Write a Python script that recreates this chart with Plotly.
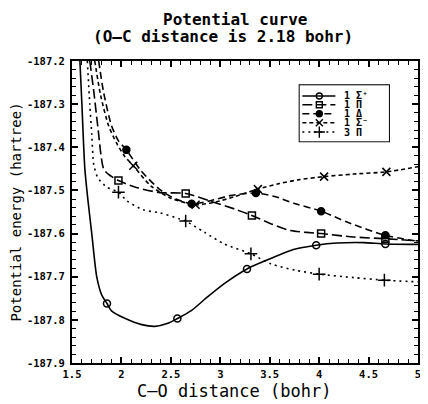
import plotly.graph_objects as go

# ---------------- data ----------------
# 1Σ+ (solid, open circles)
s1_x = [1.58, 1.60, 1.63, 1.66, 1.70, 1.75, 1.80, 1.854, 1.90, 2.04, 2.205, 2.34, 2.47, 2.566,
        2.71, 2.87, 3.04, 3.27, 3.51, 3.74, 3.97, 4.18, 4.45, 4.67, 5.0]
s1_y = [-187.20, -187.30, -187.45, -187.52, -187.60, -187.70, -187.742, -187.762, -187.779,
        -187.797, -187.811, -187.815, -187.808, -187.797, -187.778, -187.747, -187.716, -187.682,
        -187.658, -187.637, -187.627, -187.622, -187.621, -187.624, -187.625]
s1_mx = [1.854, 2.566, 3.27, 3.97, 4.67]
s1_my = [-187.762, -187.797, -187.682, -187.627, -187.624]

# 1Π (long dash, open squares)
s2_x = [1.68, 1.72, 1.76, 1.82, 1.87, 1.97, 2.15, 2.39, 2.65, 2.9, 3.17, 3.32, 3.51, 3.71,
        4.02, 4.35, 4.67, 5.0]
s2_y = [-187.20, -187.27, -187.35, -187.45, -187.463, -187.477, -187.493, -187.505, -187.507,
        -187.525, -187.545, -187.558, -187.577, -187.593, -187.600, -187.608, -187.612, -187.617]
s2_mx = [1.97, 2.65, 3.32, 4.02, 4.67]
s2_my = [-187.477, -187.507, -187.558, -187.600, -187.612]

# 1Δ (dashed, filled circles)
s3_x = [1.77, 1.82, 1.90, 1.97, 2.05, 2.2, 2.4, 2.55, 2.71, 2.9, 3.1, 3.36, 3.55, 3.76, 4.02,
        4.3, 4.67, 5.0]
s3_y = [-187.20, -187.273, -187.35, -187.385, -187.406, -187.455, -187.50, -187.52, -187.531,
        -187.524, -187.512, -187.506, -187.514, -187.531, -187.548, -187.575, -187.604, -187.618]
s3_mx = [2.05, 2.71, 3.36, 4.02, 4.67]
s3_my = [-187.406, -187.531, -187.506, -187.548, -187.604]

# 1Σ- (short dash, crosses x)
s4_x = [1.73, 1.79, 1.87, 1.95, 2.03, 2.12, 2.3, 2.5, 2.75, 2.95, 3.15, 3.38, 3.6, 3.8, 4.05,
        4.35, 4.68, 5.0]
s4_y = [-187.20, -187.28, -187.35, -187.39, -187.42, -187.443, -187.49, -187.518, -187.533,
        -187.527, -187.514, -187.497, -187.484, -187.475, -187.468, -187.462, -187.457, -187.445]
s4_mx = [2.12, 2.75, 3.38, 4.05, 4.68]
s4_my = [-187.443, -187.533, -187.497, -187.468, -187.457]

# 3Π (dotted, plus)
s5_x = [1.655, 1.68, 1.70, 1.72, 1.76, 1.85, 1.97, 2.055, 2.22, 2.39, 2.59, 2.65, 2.84, 3.04,
        3.31, 3.51, 3.76, 4.0, 4.35, 4.66, 5.0]
s5_y = [-187.20, -187.30, -187.37, -187.44, -187.47, -187.492, -187.504, -187.524, -187.545,
        -187.552, -187.566, -187.571, -187.597, -187.624, -187.647, -187.670, -187.685, -187.694,
        -187.702, -187.708, -187.712]
s5_mx = [1.97, 2.65, 3.31, 4.0, 4.66]
s5_my = [-187.504, -187.571, -187.647, -187.694, -187.708]

series_names = ["1\u2009Σ\u207a", "1\u2009Π", "1\u2009Δ", "1\u2009Σ\u207b", "3\u2009Π"]

title_lines = ["Potential curve", "(O–C distance is 2.18 bohr)"]
x_title = "C–O distance (bohr)"
y_title = "Potential energy (hartree)"

x_tick_vals = [1.5, 2, 2.5, 3, 3.5, 4, 4.5, 5]
x_tick_text = ["1.5", "2", "2.5", "3", "3.5", "4", "4.5", "5"]
y_tick_vals = [-187.9, -187.8, -187.7, -187.6, -187.5, -187.4, -187.3, -187.2]
y_tick_text = ["-187.9", "-187.8", "-187.7", "-187.6", "-187.5", "-187.4", "-187.3", "-187.2"]

# ---------------- styling ----------------
FONT = "DejaVu Sans Mono"
styles = [
    dict(dash="solid", symbol="circle-open", size=7),
    dict(dash="10px,4px", symbol="square-open", size=7),
    dict(dash="7px,4px", symbol="circle", size=7),
    dict(dash="4px,3px", symbol="x-thin-open", size=8),
    dict(dash="2px,4px", symbol="cross-thin-open", size=9),
]
curves = [(s1_x, s1_y, s1_mx, s1_my), (s2_x, s2_y, s2_mx, s2_my), (s3_x, s3_y, s3_mx, s3_my),
          (s4_x, s4_y, s4_mx, s4_my), (s5_x, s5_y, s5_mx, s5_my)]

fig = go.Figure()
for (cx, cy, mx, my), st, name in zip(curves, styles, series_names):
    fig.add_trace(go.Scatter(x=cx, y=cy, mode="lines", name=name, showlegend=False,
                             line=dict(color="black", width=1.6, dash=st["dash"],
                                       shape="spline", smoothing=0.7),
                             hoverinfo="skip"))
    fig.add_trace(go.Scatter(x=mx, y=my, mode="markers", name=name, showlegend=False,
                             marker=dict(symbol=st["symbol"], size=st["size"], color="black",
                                         line=dict(color="black", width=1.5))))

# ---------------- hand-drawn legend in an inset axis ----------------
leg_rows = [0.81, 0.654, 0.493, 0.332, 0.166]
for row, st, name in zip(leg_rows, styles, series_names):
    fig.add_trace(go.Scatter(x=[0.03, 0.40], y=[row, row], mode="lines", xaxis="x2", yaxis="y2",
                             showlegend=False, hoverinfo="skip",
                             line=dict(color="black", width=1.6, dash=st["dash"])))
    fig.add_trace(go.Scatter(x=[0.22], y=[row], mode="markers", xaxis="x2", yaxis="y2",
                             showlegend=False, hoverinfo="skip",
                             marker=dict(symbol=st["symbol"], size=st["size"] - 1, color="black",
                                         line=dict(color="black", width=1.4))))
    fig.add_annotation(x=0.49, y=row, xref="x2", yref="y2", text=name, showarrow=False,
                       xanchor="left", yanchor="middle", borderpad=0,
                       font=dict(family=FONT, size=10, color="black", weight="bold"))

box = dict(x0=0.658, x1=0.916, y0=0.734, y1=0.9195)
fig.add_shape(type="rect", xref="paper", yref="paper", layer="below",
              x0=box["x0"], x1=box["x1"], y0=box["y0"], y1=box["y1"],
              line=dict(color="black", width=2), fillcolor="white")

# ---------------- title (two centred lines) and x-axis title ----------------
for txt, xp, yp in zip(title_lines, [0.473, 0.435], [1.1358, 1.0795]):
    fig.add_annotation(text="<b>" + txt + "</b>", xref="paper", yref="paper", x=xp, y=yp,
                       xanchor="center", yanchor="middle", showarrow=False, borderpad=0,
                       font=dict(family=FONT, size=16, color="black"))
fig.add_annotation(text=x_title, xref="paper", yref="paper", x=0.467, y=-0.094,
                   xanchor="center", yanchor="middle", showarrow=False, borderpad=0,
                   font=dict(family=FONT, size=17, color="black"))

tickfont = dict(family=FONT, size=10.5, color="black", weight="bold")
# the page body keeps an 8px default margin, so the figure is 8px smaller than the window
fig.update_layout(
    width=420, height=396,
    margin=dict(l=64, r=7, t=53, b=41),
    paper_bgcolor="white", plot_bgcolor="white",
    showlegend=False,
    xaxis=dict(range=[1.5, 5], tickmode="array", tickvals=x_tick_vals, ticktext=x_tick_text,
               ticks="inside", ticklen=6, tickwidth=1.5, tickcolor="black",
               showline=True, linewidth=2, linecolor="black", mirror="allticks",
               showgrid=False, zeroline=False, tickfont=tickfont, ticklabeloverflow="allow",
               minor=dict(tickmode="linear", tick0=1.5, dtick=0.1, ticks="inside",
                          ticklen=4, tickwidth=1.2, tickcolor="black", showgrid=False)),
    yaxis=dict(range=[-187.9, -187.2], tickmode="array", tickvals=y_tick_vals, ticktext=y_tick_text,
               ticks="inside", ticklen=6, tickwidth=1.5, tickcolor="black",
               showline=True, linewidth=2, linecolor="black", mirror="allticks",
               showgrid=False, zeroline=False, tickfont=tickfont, ticklabelstandoff=3,
               minor=dict(tickmode="linear", tick0=-187.9, dtick=0.02, ticks="inside",
                          ticklen=4, tickwidth=1.2, tickcolor="black", showgrid=False),
               title=dict(text=y_title, standoff=2,
                          font=dict(family=FONT, size=14, color="black"))),
    xaxis2=dict(domain=[box["x0"], box["x1"]], range=[0, 1], anchor="y2", visible=False,
                fixedrange=True),
    yaxis2=dict(domain=[box["y0"], box["y1"]], range=[0, 1], anchor="x2", visible=False,
                fixedrange=True),
)

fig.write_html("out.html")
